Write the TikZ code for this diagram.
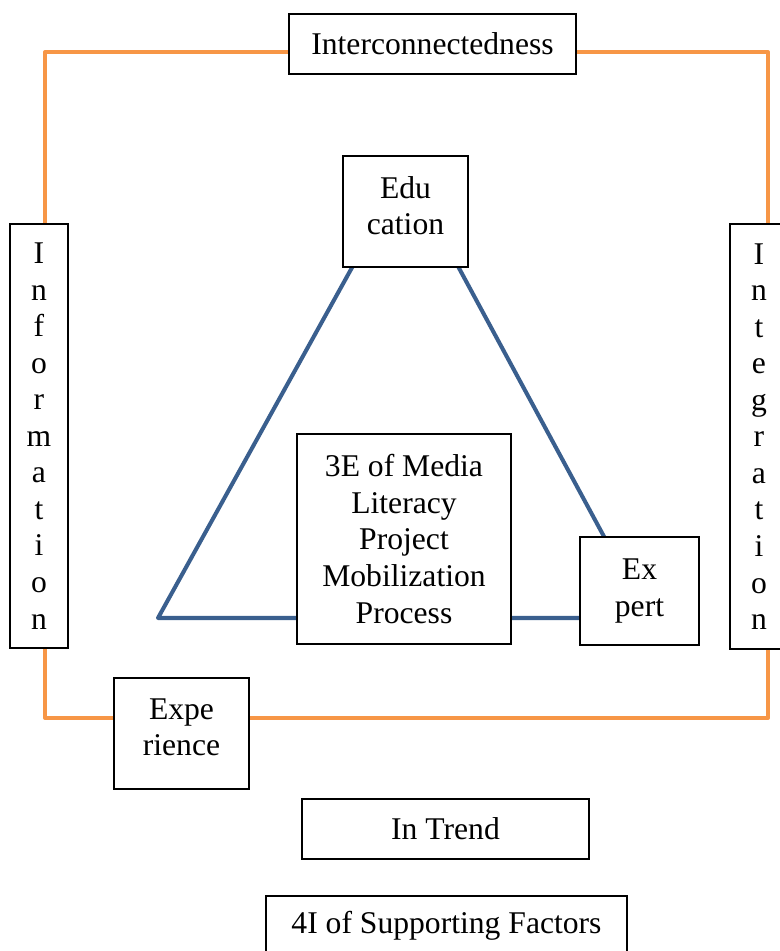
\documentclass[tikz,border=0pt]{standalone}
\usepackage{fontspec}
\setmainfont{Liberation Serif}
\usetikzlibrary{positioning}

\definecolor{frameorange}{HTML}{F79646}
\definecolor{triblue}{HTML}{3A5F8E}

\begin{document}
\begin{tikzpicture}[x=0.02cm, y=-0.02cm,
                box/.style = {draw, fill=white, line width=0.9pt, align=center, inner sep=0pt,
                              font=\fontsize{18}{20.8}\selectfont},
                lbl/.style = {align=center, inner sep=0pt, yshift=0.12cm,
                              font=\fontsize{18}{20.8}\selectfont},
                frame/.style = {draw=frameorange, line width=2.3pt, line join=round},
                tri/.style = {draw=triblue, line width=2.3pt, line join=round}]
                \useasboundingbox (0,0) rectangle (780,951);

                \coordinate (F1) at (45, 52);
                \coordinate (F2) at (768, 52);
                \coordinate (F3) at (768, 718);
                \coordinate (F4) at (45, 718);
                \draw [frame] (F1) -- (F2) -- (F3) -- (F4) -- cycle;

                \coordinate (T1) at (406, 170);
                \coordinate (T2) at (158, 618);
                \coordinate (T3) at (648, 618);
                \draw [tri] (T1) -- (T2) -- (T3) -- cycle;

                \node[box, minimum width=5.74cm, minimum height=1.2cm] at (432.5, 44) (inter) {Interconnectedness};
                \node[box, minimum width=1.16cm, minimum height=8.48cm] at (39, 436) (info) {I\\n\\f\\o\\r\\m\\a\\t\\i\\o\\n};
                \node[box, minimum width=1.16cm, minimum height=8.5cm] at (759, 436.5) (integ) {I\\n\\t\\e\\g\\r\\a\\t\\i\\o\\n};
                \node[box, minimum width=2.7cm, minimum height=2.22cm,
                      label={[lbl]center:{Expe\\rience}}] at (181.5, 733.5) (exper) {};
                \node[box, minimum width=2.5cm, minimum height=2.22cm,
                      label={[lbl]center:{Edu\\cation}}] at (405.5, 211.5) (educ) {};
                \node[box, minimum width=4.28cm, minimum height=4.2cm] at (404, 539) (mlp) {3E of Media\\Literacy\\Project\\Mobilization\\Process};
                \node[box, minimum width=2.38cm, minimum height=2.16cm] at (639.5, 591) (expert) {Ex\\pert};
                \node[box, minimum width=5.74cm, minimum height=1.2cm] at (445.5, 829) (trend) {In Trend};
                \node[box, minimum width=7.22cm, minimum height=1.2cm] at (446.5, 926) (factors) {4I of Supporting Factors};
\end{tikzpicture}
\end{document}
